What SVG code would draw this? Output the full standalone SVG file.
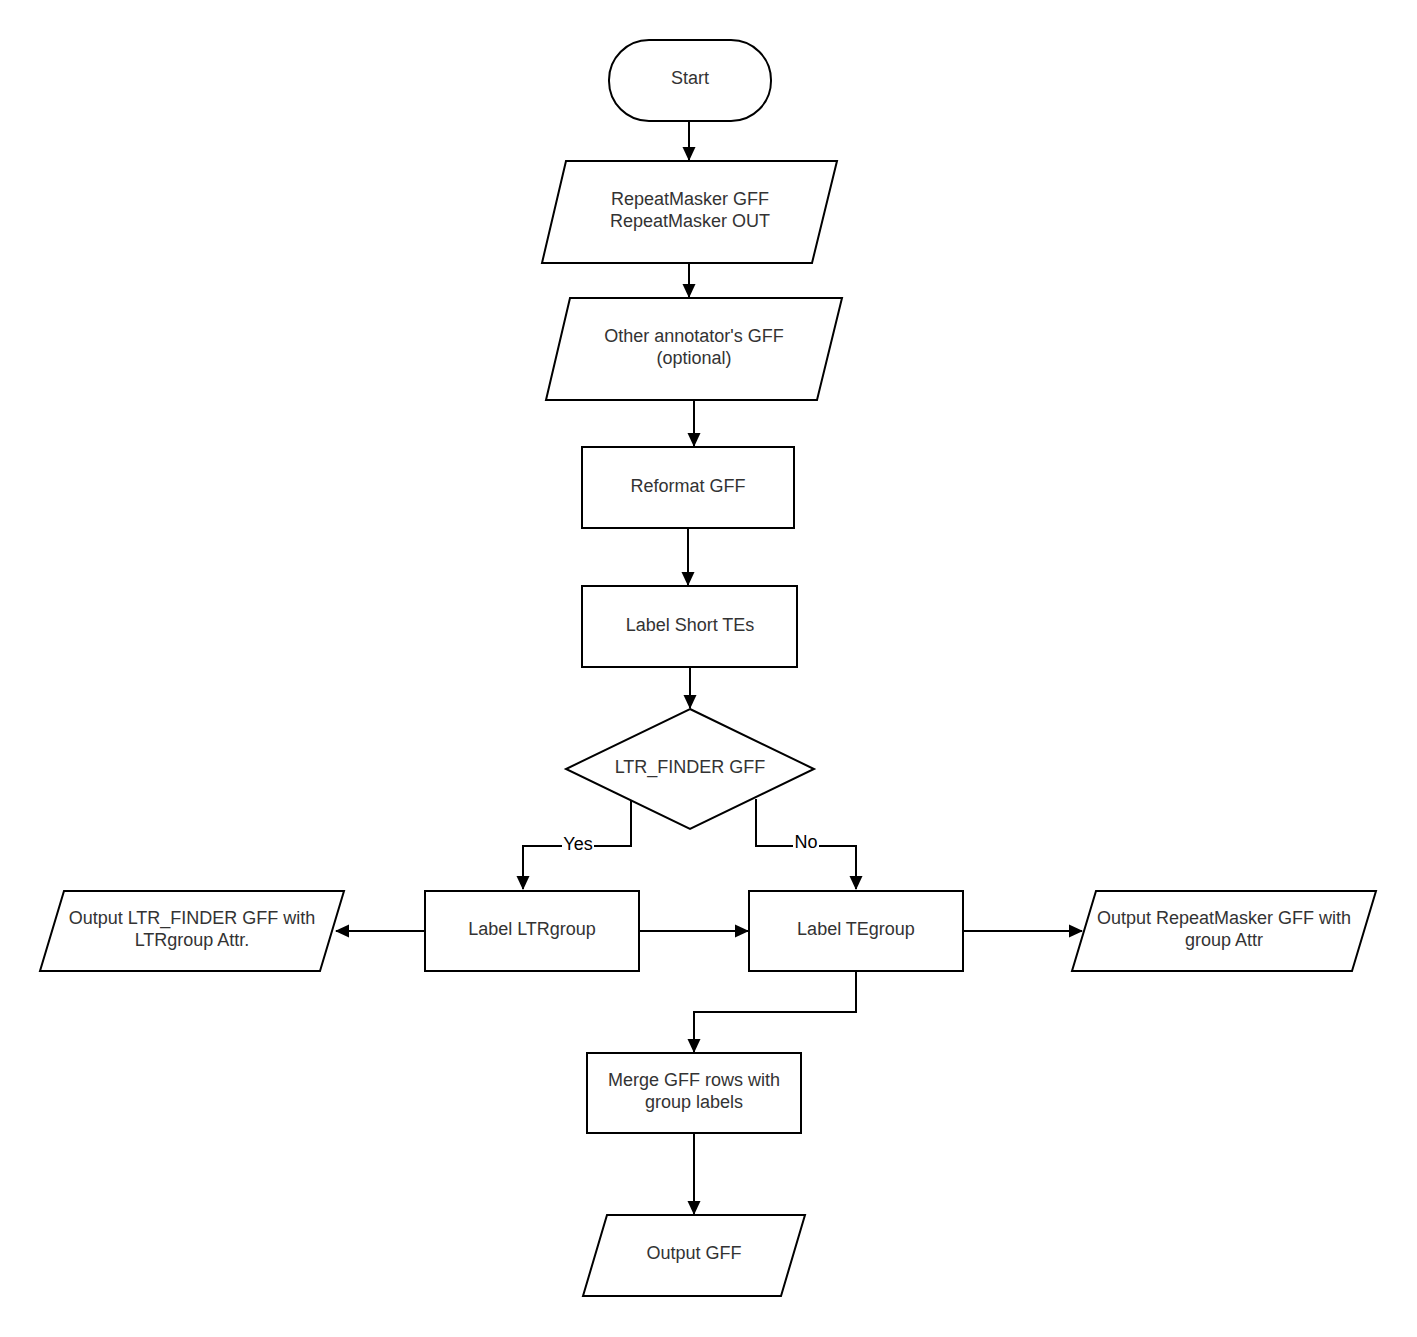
<svg xmlns="http://www.w3.org/2000/svg" width="1417" height="1337" viewBox="0 0 1417 1337">
<style>
.s{fill:#fff;stroke:#000;stroke-width:2}
.t{font-family:"Liberation Sans",Arial,sans-serif;font-size:18px;fill:#333;text-anchor:middle;dominant-baseline:central}
.c{fill:none;stroke:#000;stroke-width:2}
.l{font-family:"Liberation Sans",Arial,sans-serif;font-size:18px;fill:#000;text-anchor:middle;dominant-baseline:central}
</style>
<defs>
<marker id="ah" markerWidth="14" markerHeight="16" viewBox="0 0 14 16" refX="13" refY="8" orient="auto" markerUnits="userSpaceOnUse">
<path d="M0,1.5 L14,8 L0,14.5 Z" fill="#000"/>
</marker>
</defs>
<rect width="1417" height="1337" fill="#fff"/>
<g id="connectors">
<path class="c" d="M689,121 V160" marker-end="url(#ah)"/>
<path class="c" d="M689,263 V297" marker-end="url(#ah)"/>
<path class="c" d="M694,400 V446" marker-end="url(#ah)"/>
<path class="c" d="M688,528 V585" marker-end="url(#ah)"/>
<path class="c" d="M690,667 V708" marker-end="url(#ah)"/>
<path class="c" d="M631,801 V846 H523 V889" marker-end="url(#ah)"/>
<path class="c" d="M756,799 V846 H856 V889" marker-end="url(#ah)"/>
<path class="c" d="M425,931 H336" marker-end="url(#ah)"/>
<path class="c" d="M639,931 H748" marker-end="url(#ah)"/>
<path class="c" d="M963,931 H1082" marker-end="url(#ah)"/>
<path class="c" d="M856,971 V1012 H694 V1052" marker-end="url(#ah)"/>
<path class="c" d="M694,1133 V1214" marker-end="url(#ah)"/>
<rect x="562" y="834" width="32" height="20" fill="#fff"/>
<text class="l" x="578" y="844">Yes</text>
<rect x="793" y="832" width="26" height="20" fill="#fff"/>
<text class="l" x="806" y="842">No</text>
</g>
<g id="start">
<rect class="s" x="609" y="40" width="162" height="81" rx="40" ry="40"/>
<text class="t" x="690" y="78">Start</text>
</g>
<g id="input-rm">
<polygon class="s" points="566,161 837,161 812,263 542,263"/>
<text class="t" x="690" y="199">RepeatMasker GFF</text>
<text class="t" x="690" y="221">RepeatMasker OUT</text>
</g>
<g id="input-other">
<polygon class="s" points="570,298 842,298 817,400 546,400"/>
<text class="t" x="694" y="336">Other annotator's GFF</text>
<text class="t" x="694" y="358">(optional)</text>
</g>
<g id="reformat">
<rect class="s" x="582" y="447" width="212" height="81"/>
<text class="t" x="688" y="486">Reformat GFF</text>
</g>
<g id="label-short">
<rect class="s" x="582" y="586" width="215" height="81"/>
<text class="t" x="690" y="625">Label Short TEs</text>
</g>
<g id="decision">
<polygon class="s" points="690,709 814,769 690,829 566,769"/>
<text class="t" x="690" y="767">LTR_FINDER GFF</text>
</g>
<g id="label-ltr">
<rect class="s" x="425" y="891" width="214" height="80"/>
<text class="t" x="532" y="929">Label LTRgroup</text>
</g>
<g id="label-te">
<rect class="s" x="749" y="891" width="214" height="80"/>
<text class="t" x="856" y="929">Label TEgroup</text>
</g>
<g id="output-ltr">
<polygon class="s" points="64,891 344,891 320,971 40,971"/>
<text class="t" x="192" y="918">Output LTR_FINDER GFF with</text>
<text class="t" x="192" y="940">LTRgroup Attr.</text>
</g>
<g id="output-rm">
<polygon class="s" points="1096,891 1376,891 1352,971 1072,971"/>
<text class="t" x="1224" y="918">Output RepeatMasker GFF with</text>
<text class="t" x="1224" y="940">group Attr</text>
</g>
<g id="merge">
<rect class="s" x="587" y="1053" width="214" height="80"/>
<text class="t" x="694" y="1080">Merge GFF rows with</text>
<text class="t" x="694" y="1102">group labels</text>
</g>
<g id="output-gff">
<polygon class="s" points="607,1215 805,1215 781,1296 583,1296"/>
<text class="t" x="694" y="1253">Output GFF</text>
</g>
</svg>
